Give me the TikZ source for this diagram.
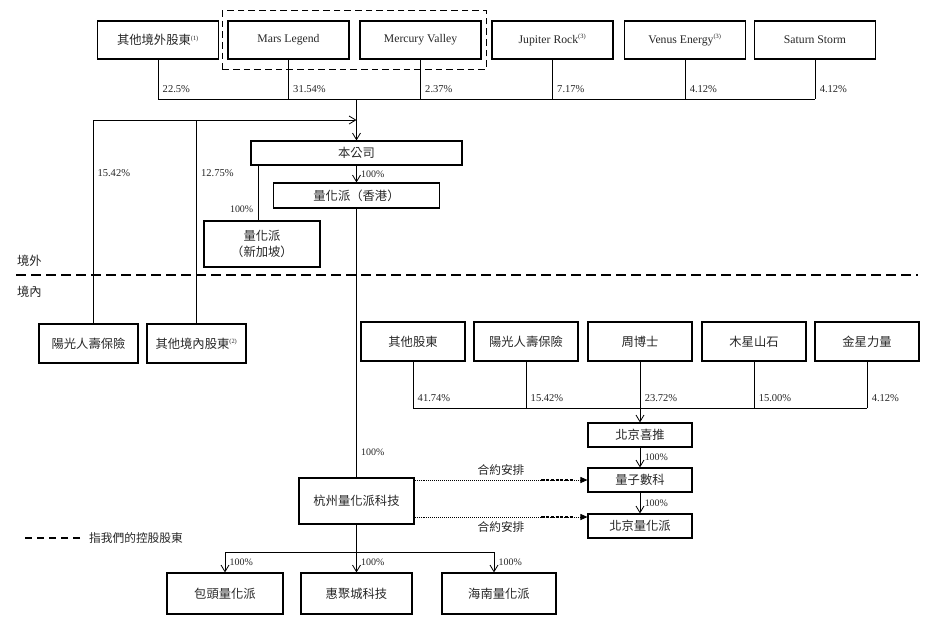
\documentclass[tikz,border=0pt]{standalone}
\usepackage{fontspec}
\setmainfont{Liberation Serif}
\newfontfamily\cjk{Noto Sans CJK TC}
\usetikzlibrary{arrows.meta,positioning,fit}

\newcommand{\supnote}[1]{\textsuperscript{\rmfamily\fontsize{5.5}{6}\selectfont(#1)}}

\begin{document}
\begin{tikzpicture}[x=0.03cm, y=-0.03cm,
  box/.style={draw, line width=0.9pt, inner sep=0pt, align=center, text=black!85, font=\fontsize{10}{12}\selectfont},
  cbox/.style={box, font=\fontsize{10.5}{13}\selectfont\cjk},
  topbox/.style={minimum width=3.63cm, minimum height=1.14cm},
  rowbox/.style={minimum width=3.12cm, minimum height=1.17cm},
  subbox/.style={minimum width=3.12cm, minimum height=0.72cm},
  link/.style={line width=0.7pt},
  arr/.style={link, -{Straight Barb[length=2mm,width=2.4mm]}},
  contract/.style={line width=0.8pt, dash pattern=on 0.8pt off 0.9pt, -{Triangle[length=2.1mm,width=1.8mm]}},
  thickdash/.style={line width=1.4pt, dash pattern=on 2.6pt off 1.4pt},
  ctrl/.style={draw, line width=0.9pt, dash pattern=on 0.2cm off 0.12cm},
  sep/.style={line width=0.9pt, dash pattern=on 0.3cm off 0.15cm},
  legdash/.style={line width=1.3pt, dash pattern=on 0.21cm off 0.15cm},
  pct/.style={anchor=south west, inner xsep=0.13cm, inner ysep=0.17cm, text=black!85, font=\fontsize{9}{10}\selectfont},
  pctv/.style={anchor=west, inner sep=0.13cm, text=black!85, font=\fontsize{8.5}{10}\selectfont},
  cjklabel/.style={text=black!85, font=\fontsize{10}{12}\selectfont\cjk},
]
\useasboundingbox (0,0) rectangle (944,630);

%%%%%%%%%%%%%%%% offshore shareholders %%%%%%%%%%%%%%%%
\node[cbox, topbox] (oshare) at (158,40) {其他境外股東\supnote{1}};
\node[box, topbox] (mars) at (288.5,40) {Mars Legend};
\node[box, topbox] (mercury) at (420.5,40) {Mercury Valley};
\node[box, topbox] (jupiter) at (552.5,40) {Jupiter Rock\supnote{3}};
\node[box, topbox] (venus) at (685,40) {Venus Energy\supnote{3}};
\node[box, topbox] (saturn) at (815,40) {Saturn Storm};
\node[ctrl, fit=(mars)(mercury), inner xsep=0.15cm, inner ysep=0.3cm] (ctrlgrp) {};

\coordinate (topbus) at (356.5,99);
\foreach \n/\p in {oshare/22.5, mars/31.54, mercury/2.37, jupiter/7.17, venus/4.12, saturn/4.12}
  \draw[link] (\n.south) -- (\n.south |- topbus) node[pct] (p\n) {\p\%};
\draw[link] (oshare.south |- topbus) -- (saturn.south |- topbus);

%%%%%%%%%%%%%%%% company and offshore subsidiaries %%%%%%%%%%%%%%%%
\node[cbox, minimum width=6.33cm, minimum height=0.72cm] (company) at (356.5,153) {本公司};
\node[cbox, minimum width=4.98cm, minimum height=0.75cm] (hk) at (356.5,195.5) {量化派（香港）};
\node[cbox, minimum width=3.48cm, minimum height=1.38cm] (sg) at (262,244) {量化派\\（新加坡）};

\draw[arr] (topbus) -- (company.north);
\draw[arr] (company.south) -- (hk.north) node[midway, pctv] (phk) {100\%};
\coordinate (sgtop) at ([xshift=-0.12cm]sg.north);
\draw[link] (sgtop |- company.south) -- (sgtop) node[pos=0.79, pctv, anchor=east] (psg) {100\%};

%%%%%%%%%%%%%%%% onshore shareholders of the company %%%%%%%%%%%%%%%%
\node[cbox, minimum width=2.97cm, minimum height=1.17cm] (sunlife) at (88.5,343.5) {陽光人壽保險};
\node[cbox, minimum width=2.97cm, minimum height=1.17cm] (odom) at (196.5,343.5) {其他境內股東\supnote{2}};

\coordinate (dombus) at (93,120);
\draw[arr] (sunlife.north -| dombus) -- (dombus) -- (topbus |- dombus);
\draw[link] (odom.north) -- (odom.north |- dombus);
\node[pctv, font=\fontsize{9}{10}\selectfont] (psun) at (93,173) {15.42\%};
\node[pctv, font=\fontsize{9}{10}\selectfont] (podom) at (196.5,173) {12.75\%};

%%%%%%%%%%%%%%%% border %%%%%%%%%%%%%%%%
\draw[sep] (16,275) -- (918,275);
\node[cjklabel, anchor=west, font=\fontsize{10.5}{12}\selectfont\cjk] (offshore) at (13,261) {境外};
\node[cjklabel, anchor=west, font=\fontsize{10.5}{12}\selectfont\cjk] (onshore) at (13,292) {境內};

%%%%%%%%%%%%%%%% WFOE %%%%%%%%%%%%%%%%
\node[cbox, minimum width=3.45cm, minimum height=1.38cm] (hz) at (356.5,501) {杭州量化派科技};
\draw[link] (hk.south) -- (hz.north) node[pos=0.907, pctv] (phz) {100\%};

%%%%%%%%%%%%%%%% VIE side %%%%%%%%%%%%%%%%
\node[cbox, rowbox] (roth) at (413,341.5) {其他股東};
\node[cbox, rowbox] (rsun) at (526,341.5) {陽光人壽保險};
\node[cbox, rowbox] (zhou) at (640,341.5) {周博士};
\node[cbox, rowbox] (mux) at (754,341.5) {木星山石};
\node[cbox, rowbox] (jinx) at (867,341.5) {金星力量};

\coordinate (rbus) at (640,408);
\foreach \n/\p in {roth/41.74, rsun/15.42, zhou/23.72, mux/15.00, jinx/4.12}
  \draw[link] (\n.south) -- (\n.south |- rbus) node[pct] (p\n) {\p\%};
\draw[link] (roth.south |- rbus) -- (jinx.south |- rbus);

\node[cbox, subbox] (bjxt) at (640,435) {北京喜推};
\node[cbox, subbox] (lzsk) at (640,480) {量子數科};
\node[cbox, subbox] (bjlh) at (640,526) {北京量化派};

\draw[arr] (rbus) -- (bjxt.north);
\draw[arr] (bjxt.south) -- (lzsk.north) node[midway, pctv] (plzsk) {100\%};
\draw[arr] (lzsk.south) -- (bjlh.north) node[midway, pctv] (pbjlh) {100\%};

% contractual arrangements
\coordinate (k1end) at (lzsk.west);
\draw[contract] (hz.east |- k1end) -- node[cjklabel, above] (k1) {合約安排} (k1end);
\draw[thickdash] ([xshift=-1.38cm]k1end) -- ([xshift=-0.42cm]k1end);
\coordinate (k2end) at ([yshift=0.27cm]bjlh.west);
\draw[contract] (hz.east |- k2end) -- node[cjklabel, below] (k2) {合約安排} (k2end);
\draw[thickdash] ([xshift=-1.38cm]k2end) -- ([xshift=-0.42cm]k2end);

%%%%%%%%%%%%%%%% onshore subsidiaries %%%%%%%%%%%%%%%%
\node[cbox, minimum width=3.48cm, minimum height=1.23cm] (bt) at (225,593.5) {包頭量化派};
\node[cbox, minimum width=3.33cm, minimum height=1.23cm] (hjc) at (356.5,593.5) {惠聚城科技};
\node[cbox, minimum width=3.42cm, minimum height=1.23cm] (hn) at (499,593.5) {海南量化派};

\coordinate (botbus) at (hz.south |- 0,552);
\coordinate (hntop) at ([xshift=-0.15cm]hn.north);
\draw[link] (hz.south) -- (botbus);
\draw[arr] (botbus) -| (bt.north) node[pos=0.75, pctv] (pbt) {100\%};
\draw[arr] (botbus) -- (hjc.north) node[midway, pctv] (phjc) {100\%};
\draw[arr] (botbus) -| (hntop) node[pos=0.75, pctv] (phn) {100\%};

%%%%%%%%%%%%%%%% legend %%%%%%%%%%%%%%%%
\node[cjklabel, anchor=west] (legtext) at (85,538) {指我們的控股股東};
\draw[legdash] ([xshift=-0.15cm]legtext.west) -- ++(-55,0);

\end{tikzpicture}
\end{document}
